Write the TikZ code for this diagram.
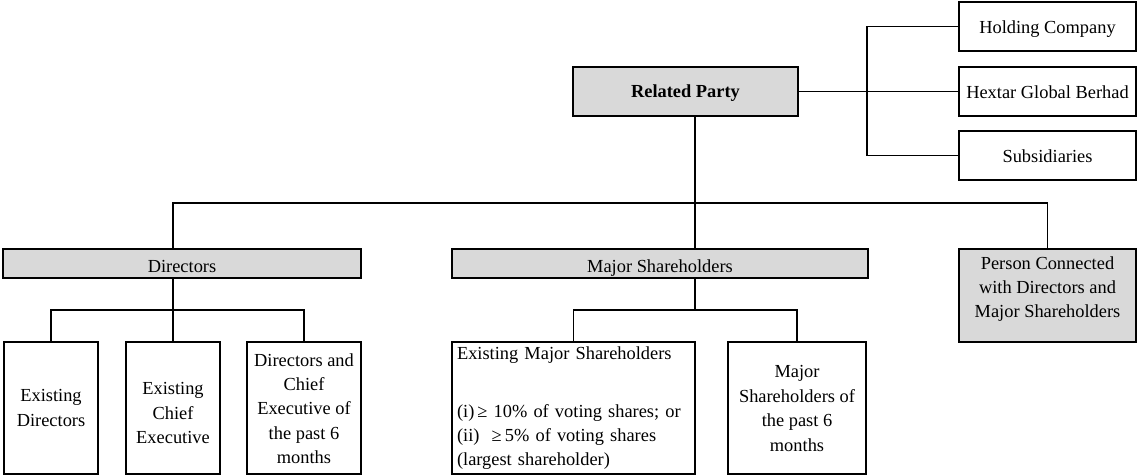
\documentclass[tikz,border=0pt]{standalone}
\usepackage{fontspec}
\setmainfont{Liberation Serif}
\definecolor{boxgray}{HTML}{D9D9D9}
\newcommand{\diafont}{\fontsize{9.2}{12.2}\selectfont}
% multi-line cell: #1 extra space on top, #2 extra space at bottom
\newcommand{\cbx}[3]{\begin{tabular}{@{}c@{}}\rule{0pt}{\dimexpr 8.54pt+#1\relax}#3\rule[-\dimexpr 3.66pt+#2\relax]{0pt}{\dimexpr 3.66pt+#2\relax}\end{tabular}}
\begin{document}
\begin{tikzpicture}[x=0.5pt,y=-0.5pt,
  box/.style={draw=black, line width=0.8pt, inner sep=1pt, outer sep=0pt,
    font=\diafont},
  graybox/.style={box, fill=boxgray},
  sz/.style 2 args={minimum width=#1*0.5pt, minimum height=#2*0.5pt},
  conn/.style={draw=black, line width=0.8pt}]
\useasboundingbox (0,0) rectangle (1138,475);

% top level
\node[graybox, sz={225}{49}, font=\diafont\bfseries, text height=8pt, text depth=1.8pt] (rp) at (685.5,91.5) {Related Party};
\node[box, sz={177}{49}, text height=8pt, text depth=1.1pt] (hc) at (1047.5,26.5) {Holding Company};
\node[box, sz={177}{49}, text height=8pt, text depth=1.1pt] (hx) at (1047.5,91.5) {Hextar Global Berhad};
\node[box, sz={177}{49}, text height=8pt, text depth=1.1pt] (sub) at (1047.5,155.5) {Subsidiaries};

% second level
\node[graybox, sz={358}{29}, text height=10.5pt, text depth=1pt] (dir) at (182,263.5) {Directors};
\node[graybox, sz={416}{29}, text height=10.5pt, text depth=1pt] (ms) at (660,263.5) {Major Shareholders};
\node[graybox, sz={177}{93}] (pc) at (1047.5,295.5)
  {\cbx{0pt}{6.8pt}{Person Connected\\with Directors and\\Major Shareholders}};

% third level
\node[box, sz={94}{132}] (ed) at (51,408) {\cbx{1.3pt}{0pt}{Existing\\Directors}};
\node[box, sz={94}{132}] (ec) at (173,408) {\cbx{6.5pt}{0pt}{Existing\\Chief\\Executive}};
\node[box, sz={114}{132}] (dc) at (304,408)
  {\cbx{2pt}{0pt}{Directors and\\Chief\\Executive of\\the past 6\\months}};
\node[box, sz={243}{132}, align=left, text width=116.5pt, inner xsep=2.5pt, inner ysep=0pt] (em) at (573.5,408)
  {\begin{tabular}{@{}l@{}}Existing Major Shareholders\\[16.5pt]
   (i)\,≥ 10\% of voting shares; or\\
   (ii)\ \ ≥\,5\% of voting shares\\
   (largest shareholder)\end{tabular}};
\node[box, sz={138}{132}] (mp) at (797,408)
  {\cbx{1.7pt}{0pt}{Major\\Shareholders of\\the past 6\\months}};

% junction coordinates
\coordinate (bx) at (867,0);
\coordinate (mv) at (695,203);
\coordinate (j1) at (173,203);
\coordinate (dj) at (173,310);
\coordinate (mj) at (695,310);

% connectors
\draw[conn] (rp.east) -- (hx.west);
\draw[conn] (hc.west) -| (bx |- sub.west) -- (sub.west);
\draw[conn] (rp.south -| mv) -- (mv);
\draw[conn] (dir.north -| j1) |- (pc.north |- j1) -- (pc.north);
\draw[conn] (ms.north -| mv) -- (mv);
\draw[conn] (dir.south -| dj) -- (ec.north);
\draw[conn] (ed.north) |- (dj) -| (dc.north);
\draw[conn] (ms.south -| mj) -- (mj);
\draw[conn] (em.north) |- (mj) -| (mp.north);
\end{tikzpicture}
\end{document}
